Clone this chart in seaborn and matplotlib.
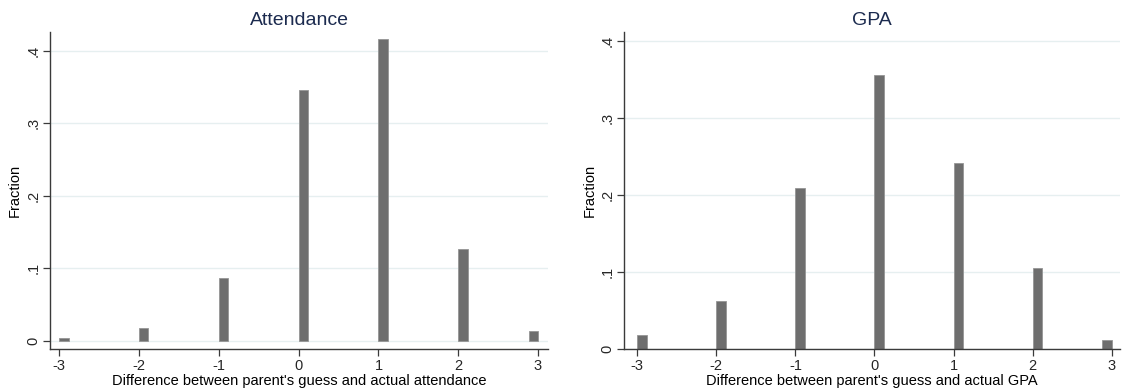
import numpy as np
import pandas as pd
import matplotlib
matplotlib.use("Agg")
import matplotlib.pyplot as plt
import seaborn as sns

# ---- data ----
diff_values = [-3, -2, -1, 0, 1, 2, 3]
attendance_fraction = [0.003, 0.0175, 0.0865, 0.3465, 0.416, 0.127, 0.0135]
gpa_fraction = [0.019, 0.062, 0.209, 0.3555, 0.242, 0.1055, 0.012]
y_ticks = [0, 0.1, 0.2, 0.3, 0.4]
y_tick_labels = ["0", ".1", ".2", ".3", ".4"]
x_ticks = [-3, -2, -1, 0, 1, 2, 3]
x_tick_labels = ["-3", "-2", "-1", "0", "1", "2", "3"]
titles = ["Attendance", "GPA"]
xlabels = ["Difference between parent's guess and actual attendance",
           "Difference between parent's guess and actual GPA"]

sns.set_theme(style="white")
plt.rcParams["font.family"] = ["Liberation Sans", "DejaVu Sans"]

BAR_W = 0.117
BAR_FACE = "#6e6e6e"
BAR_EDGE = "#959595"
GRID = "#e6eff0"
TITLE_C = "#1c2b4f"
AX_C = "#3a3a3a"


def bin_edges(values, width):
    # Stata-like narrow bins starting at each value; the last one ends at the max
    vmax = max(values)
    edges = []
    for v in values:
        left = min(v, vmax - width)
        edges += [left, left + width]
    return edges


fig = plt.figure(figsize=(11.23, 3.92), dpi=100)
axes_specs = [
    dict(rect=[50 / 1123, 1 - 349 / 392, (548 - 50) / 1123, (349 - 32) / 392],
         xlim=(-3.117, 3.125), ylim=(-0.0115, 0.426), data=attendance_fraction),
    dict(rect=[624.3 / 1123, 1 - 349.3 / 392, (1120 - 624.3) / 1123, (349.3 - 31.7) / 392],
         xlim=(-3.164, 3.105), ylim=(0.0, 0.4117), data=gpa_fraction),
]

for i, spec in enumerate(axes_specs):
    ax = fig.add_axes(spec["rect"])
    df = pd.DataFrame({"diff": diff_values, "fraction": spec["data"]})
    for yt in y_ticks:
        ax.axhline(yt, color=GRID, lw=1.0, zorder=0)
    sns.histplot(data=df, x="diff", weights="fraction",
                 bins=bin_edges(diff_values, BAR_W), stat="count",
                 color=BAR_FACE, edgecolor=BAR_EDGE, linewidth=0.6,
                 alpha=1, ax=ax, zorder=2)
    for p in list(ax.patches):
        if p.get_height() == 0:
            p.remove()
    ax.set_xlim(*spec["xlim"])
    ax.set_ylim(*spec["ylim"])
    ax.set_xticks(x_ticks)
    ax.set_xticklabels(x_tick_labels, fontsize=10.5)
    ax.set_yticks(y_ticks)
    ax.set_yticklabels(y_tick_labels, fontsize=10.5, rotation=90, va="center")
    ax.tick_params(axis="both", direction="out", length=5, width=0.9,
                   color=AX_C, pad=2, left=True, bottom=True)
    for s in ["top", "right"]:
        ax.spines[s].set_visible(False)
    for s in ["left", "bottom"]:
        ax.spines[s].set_color(AX_C)
        ax.spines[s].set_linewidth(1.0)
    ax.set_xlabel(xlabels[i], fontsize=10.5, labelpad=1, color="black")
    ax.set_ylabel("Fraction", fontsize=10.5, labelpad=3, color="black")
    ax.set_title(titles[i], fontsize=14, color=TITLE_C, pad=5)
    ax.grid(False)

fig.savefig("out.png", dpi=100, facecolor="white")
